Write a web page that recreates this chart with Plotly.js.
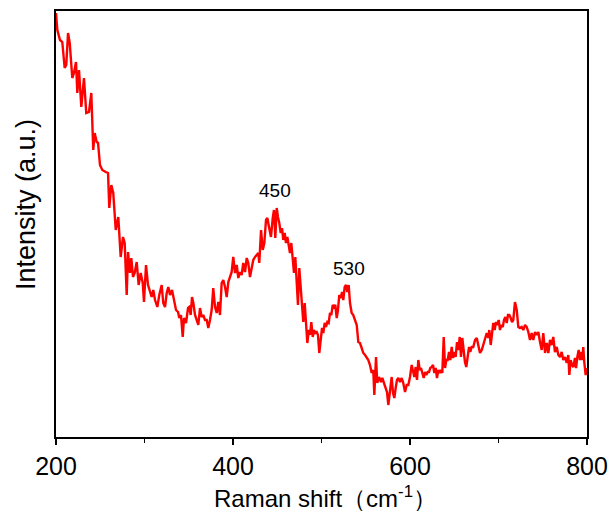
<!DOCTYPE html>
<html>
<head>
<meta charset="utf-8">
<script src="https://cdn.plot.ly/plotly-3.0.1.min.js"></script>
<style>html,body{margin:0;padding:0;background:#fff;}#chart{width:614px;height:511px;}</style>
</head>
<body>
<div id="chart"></div>
<script>
const ramanShift = [200,201.5,204.5,207.1,209.8,211.6,213.6,215.5,218.4,220.3,222.6,224.1,226.0,228.6,231.6,234.2,237.3,239.9,242.1,243.7,246.0,247.5,249.7,252.3,256.2,258.8,260.2,262.5,264.7,267.5,270.4,273.1,275.7,277.6,279.9,281.4,283.6,285.1,287.0,288.9,291.2,293.4,295.7,298.0,299.4,301.7,304.0,306.2,308.1,309.9,311.9,314.5,316.7,319.4,321.2,323.2,325.1,326.9,328.8,331.1,333.3,335.6,337.9,339.3,341.2,343.2,344.6,346.9,349.2,350.6,352.2,353.7,355.2,357.1,359.0,360.8,362.7,364.6,366.4,368.4,370.3,372.1,374.0,375.9,377.7,379.7,381.6,383.4,385.3,387.2,389.0,391.0,392.9,394.7,396.6,398.5,400.3,402.3,404.2,406.0,407.9,409.8,411.6,413.6,415.5,417.3,419.2,421.1,422.9,424.9,426.8,428.6,429.7,431.7,433.6,435.4,437.3,438.8,440.7,442.9,444.9,446.3,447.8,449.4,450.8,452.3,453.9,455.4,456.8,458.4,459.9,461.4,462.9,464.4,465.9,467.5,468.9,470.4,472.0,473.4,474.9,476.5,478.0,479.4,481.0,482.5,484.0,485.6,487.0,488.5,490.1,491.5,493.0,494.6,496.0,497.5,499.1,500.6,502.0,503.6,505.1,506.6,508.1,509.6,511.1,512.7,514.1,515.6,517.2,518.6,520.1,521.7,523.2,524.6,526.2,527.7,529.2,530.7,532.2,534.1,535.9,537.9,539.8,541.6,543.5,545.4,547.2,549.2,551.1,552.9,554.8,556.7,558.5,559.7,561.6,563.0,565.0,567.2,568.7,570.6,572.6,574.0,575.5,577.4,579.3,580.8,582.3,583.8,585.3,586.8,588.7,590.6,592.4,594.4,596.3,598.1,600.0,601.9,603.4,604.9,606.4,607.9,609.4,611.0,612.4,613.9,615.5,617.0,618.4,620.0,621.5,622.9,624.5,626.0,627.5,629.0,630.5,632.0,633.6,635.0,636.5,638.1,639.6,641.0,642.6,644.1,645.5,647.1,648.6,650.1,651.6,653.1,654.6,656.2,657.6,659.1,660.7,662.1,663.6,665.2,666.7,668.1,669.7,671.5,673.5,675.4,677.2,679.1,681.1,682.8,684.8,686.7,688.5,689.6,691.2,692.7,694.1,695.7,697.2,698.6,700.2,701.7,703.2,704.8,706.2,707.7,709.3,710.7,712.2,713.8,715.3,716.7,718.6,720.6,722.4,724.3,726.2,728.0,730.0,731.9,733.7,735.6,737.5,739.3,741.3,743.2,745.0,746.9,748.8,750.6,752.6,754.5,756.3,758.2,760.1,761.9,763.8,765.8,767.6,769.5,771.4,773.2,775.2,777.1,778.9,780.0,781.6,783.1,784.5,786.4,787.6,789.1,790.6,792.1,793.2,794.7,795.8,796.9,798.5,800];
const intensity = [424,407,397,395,369,372,404,394,359,364,375,344,367,330,359,324,325,344,287,304,295,294,272,267,265,264,229,252,244,207,220,180,200,194,142,185,164,179,160,164,175,152,164,154,135,172,152,145,140,147,137,130,142,152,134,130,144,150,142,147,137,127,125,119,122,100,119,114,129,130,122,140,134,122,117,112,129,120,122,117,117,109,117,127,149,130,124,135,122,154,157,150,140,155,160,165,180,164,172,159,165,162,174,165,179,174,160,170,177,180,182,184,174,207,187,194,217,219,210,200,219,227,199,229,220,214,204,209,197,204,194,200,192,184,194,180,164,180,154,132,169,147,134,115,134,114,94,107,102,115,100,107,104,105,102,84,100,109,104,114,110,115,114,124,122,132,130,132,119,127,142,139,145,137,150,152,145,152,134,124,122,117,112,95,94,89,84,82,79,77,72,64,67,42,80,54,60,55,59,54,50,45,32,50,60,44,39,49,57,59,55,59,54,45,52,52,60,72,67,60,70,57,77,67,69,64,59,65,62,65,65,69,70,72,64,69,59,67,64,67,64,100,69,77,77,85,77,90,79,85,80,95,87,100,80,99,85,75,70,80,90,85,90,90,97,99,92,84,87,92,97,104,99,107,92,107,114,107,115,112,117,107,112,110,117,120,114,122,122,119,115,117,135,127,110,109,110,107,112,110,105,97,104,97,105,102,105,95,87,104,84,94,84,97,92,100,85,90,82,80,85,77,80,74,82,62,77,72,70,79,69,80,87,77,85,77,90,75,62,69];
const peakLabels = ["450", "530"];
const peakX = [447.6, 531];
const peakY = [247, 169];
const xTickVals = [200, 400, 600, 800];
const xTickText = ["200", "400", "600", "800"];
const xTitle = 'Raman shift（cm<sup>-1</sup>）';
const yTitle = 'Intensity (a.u.)';

const trace = {
  x: ramanShift, y: intensity, type: 'scatter', mode: 'lines',
  line: {color: '#ff0000', width: 2.4}, hoverinfo: 'skip'
};

const layout = {
  width: 614, height: 511,
  margin: {l: 56, r: 27, t: 11, b: 74},
  paper_bgcolor: '#ffffff', plot_bgcolor: '#ffffff',
  showlegend: false,
  font: {family: 'Liberation Sans, Arial, sans-serif', color: '#000'},
  xaxis: {
    range: [200, 800], tickvals: xTickVals, ticktext: xTickText,
    ticks: 'outside', ticklen: 6, tickwidth: 1.5, tickcolor: '#000',
    minor: {dtick: 100, tick0: 200, ticks: 'outside', ticklen: 4, tickwidth: 1.5, tickcolor: '#000'},
    showline: true, linewidth: 2, linecolor: '#000', mirror: true,
    showgrid: false, zeroline: false,
    tickfont: {size: 25, color: '#000'}
  },
  yaxis: {
    range: [0, 426], showticklabels: false, ticks: '',
    showline: true, linewidth: 2, linecolor: '#000', mirror: true,
    showgrid: false, zeroline: false
  },
  annotations: peakLabels.map((t, i) => ({
    x: peakX[i], y: peakY[i], xref: 'x', yref: 'y', text: t, showarrow: false,
    font: {size: 19, color: '#000'}
  })).concat([{
    xref: 'paper', yref: 'paper', x: -0.0565, y: 0.547, text: yTitle,
    textangle: -90, showarrow: false, font: {size: 27, color: '#000'},
    xanchor: 'center', yanchor: 'middle'
  }, {
    xref: 'paper', yref: 'paper', x: 0.5066, y: -0.178, text: xTitle,
    showarrow: false, font: {size: 24, color: '#000'},
    xanchor: 'center', yanchor: 'bottom', borderpad: 0
  }])
};

Plotly.newPlot('chart', [trace], layout, {displayModeBar: false, staticPlot: true});
</script>
</body>
</html>
